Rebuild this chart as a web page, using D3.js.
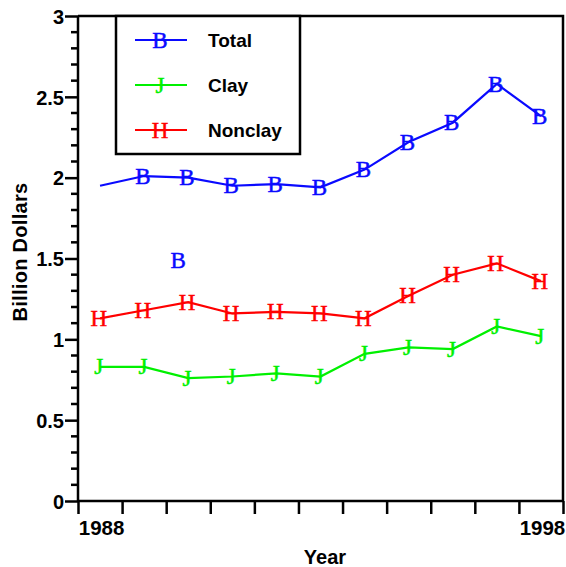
<!DOCTYPE html>
<html>
<head>
<meta charset="utf-8">
<script src="https://cdn.jsdelivr.net/npm/d3@7"></script>
<style>
  html, body { margin: 0; padding: 0; background: #fff; }
  svg { display: block; }
</style>
</head>
<body>
<svg id="chart" width="566" height="567"></svg>
<script>
// ---- data ----
const years = [1988, 1989, 1990, 1991, 1992, 1993, 1994, 1995, 1996, 1997, 1998];
const total = [1.95, 2.01, 2.00, 1.95, 1.96, 1.94, 2.05, 2.22, 2.34, 2.58, 2.38];
const clay = [0.83, 0.83, 0.76, 0.77, 0.79, 0.77, 0.91, 0.95, 0.94, 1.08, 1.02];
const nonclay = [1.13, 1.18, 1.23, 1.16, 1.17, 1.16, 1.13, 1.27, 1.40, 1.47, 1.36];
// Total markers are drawn from 1989 on; one stray marker sits below the line
const totalMarkerYears = [1989, 1990, 1991, 1992, 1993, 1994, 1995, 1996, 1997, 1998];
const strayYears = [1989.8];
const strayValues = [1.49];
const seriesNames = ["Total", "Clay", "Nonclay"];
const seriesSymbols = ["B", "J", "H"];
const yMajorTicks = [0, 0.5, 1, 1.5, 2, 2.5, 3];
const yTickLabels = ["0", "0.5", "1", "1.5", "2", "2.5", "3"];
const xTickYears = [1987.5, 1988.5, 1989.5, 1990.5, 1991.5, 1992.5, 1993.5, 1994.5, 1995.5, 1996.5, 1997.5, 1998.5];
const xLabelYears = [1988, 1998];

// ---- layout ----
const colors = ["#0a0aff", "#00f000", "#ff0000"];
const L = 78, R = 563, T = 16, B = 501;
const sansBold = "'Liberation Sans', Arial, Helvetica, sans-serif";
const serif = "'Liberation Serif', 'Times New Roman', Times, serif";

const svg = d3.select("#chart");
const x = d3.scaleLinear().domain([1987.5, 1998.5]).range([L, R]);
const y = d3.scaleLinear().domain([0, 3]).range([B, T]);

// frame top & right
svg.append("path")
  .attr("d", `M${L},${T}H${R}V${B}`)
  .attr("fill", "none").attr("stroke", "#000").attr("stroke-width", 2.5);

// y axis
const yAxis = d3.axisLeft(y).tickValues(yMajorTicks)
  .tickFormat((d, i) => yTickLabels[i]).tickSize(13).tickPadding(1);
const gy = svg.append("g").attr("transform", `translate(${L},0)`).call(yAxis);
gy.select(".domain").attr("stroke-width", 2.5).attr("d", `M0,${T}V${B}`);
gy.selectAll(".tick line").attr("stroke-width", 2.5);
gy.selectAll(".tick text").attr("font-family", sansBold).attr("font-weight", "bold")
  .attr("font-size", 20).attr("fill", "#000").attr("dy", "0.36em");
const minor = d3.range(0, 31).map(i => i / 10).filter(v => Math.abs(v * 2 - Math.round(v * 2)) > 1e-6);
gy.selectAll(".minor").data(minor).enter().append("line")
  .attr("class", "minor")
  .attr("x1", -7).attr("x2", 0)
  .attr("y1", d => y(d)).attr("y2", d => y(d))
  .attr("stroke", "#000").attr("stroke-width", 2.5);

// x axis
const xAxis = d3.axisBottom(x).tickValues(xTickYears).tickFormat("").tickSize(13);
const gx = svg.append("g").attr("transform", `translate(0,${B})`).call(xAxis);
gx.select(".domain").attr("stroke-width", 2.5).attr("d", `M${L},0H${R}`);
gx.selectAll(".tick line").attr("stroke-width", 2.5);
svg.selectAll(".xlab").data(xLabelYears).enter().append("text")
  .attr("class", "xlab")
  .attr("x", d => x(d) + 1.5).attr("y", 535)
  .attr("text-anchor", "middle")
  .attr("font-family", sansBold).attr("font-weight", "bold").attr("font-size", 20.5)
  .text(d => d);

// axis titles
svg.append("text")
  .attr("x", 325).attr("y", 564).attr("text-anchor", "middle")
  .attr("font-family", sansBold).attr("font-weight", "bold").attr("font-size", 20)
  .text("Year");
svg.append("text")
  .attr("transform", "translate(27,252) rotate(-90)").attr("text-anchor", "middle")
  .attr("font-family", sansBold).attr("font-weight", "bold").attr("font-size", 20)
  .attr("letter-spacing", 0.3)
  .text("Billion Dollars");

// lines
const line = d3.line().x(d => x(d[0])).y(d => y(d[1]));
const allSeries = [total, clay, nonclay];
allSeries.forEach((vals, i) => {
  svg.append("path")
    .datum(years.map((yr, j) => [yr, vals[j]]))
    .attr("d", line)
    .attr("fill", "none").attr("stroke", colors[i]).attr("stroke-width", 2.2);
});

// markers
const markerSize = 23;
const markerDy = 7.6;
function addMarkers(pts, sym, color) {
  svg.append("g").selectAll("text").data(pts).enter().append("text")
    .attr("x", d => x(d[0]) - 1.2).attr("y", d => y(d[1]) + markerDy)
    .attr("text-anchor", "middle")
    .attr("font-family", serif).attr("font-size", markerSize)
    .attr("fill", color).attr("stroke", color).attr("stroke-width", 0.5)
    .text(sym);
}
addMarkers(totalMarkerYears.map(yr => [yr, total[years.indexOf(yr)]]), seriesSymbols[0], colors[0]);
addMarkers(strayYears.map((yr, j) => [yr, strayValues[j]]), seriesSymbols[0], colors[0]);
addMarkers(years.map((yr, j) => [yr, clay[j]]), seriesSymbols[1], colors[1]);
addMarkers(years.map((yr, j) => [yr, nonclay[j]]), seriesSymbols[2], colors[2]);

// legend
const lg = svg.append("g");
lg.append("rect").attr("x", 116).attr("y", T).attr("width", 184).attr("height", 138)
  .attr("fill", "#fff").attr("stroke", "#000").attr("stroke-width", 2.5);
const legendY = [40, 85, 130];
seriesNames.forEach((name, i) => {
  const ly = legendY[i];
  lg.append("line").attr("x1", 135).attr("x2", 187).attr("y1", ly).attr("y2", ly)
    .attr("stroke", colors[i]).attr("stroke-width", 2.2);
  lg.append("text").attr("x", 160).attr("y", ly + markerDy).attr("text-anchor", "middle")
    .attr("font-family", serif).attr("font-size", markerSize).attr("fill", colors[i])
    .attr("stroke", colors[i]).attr("stroke-width", 0.5)
    .text(seriesSymbols[i]);
  lg.append("text").attr("x", 208).attr("y", ly + 6.5)
    .attr("font-family", sansBold).attr("font-weight", "bold").attr("font-size", 19)
    .attr("fill", "#000").text(name);
});
</script>
</body>
</html>
